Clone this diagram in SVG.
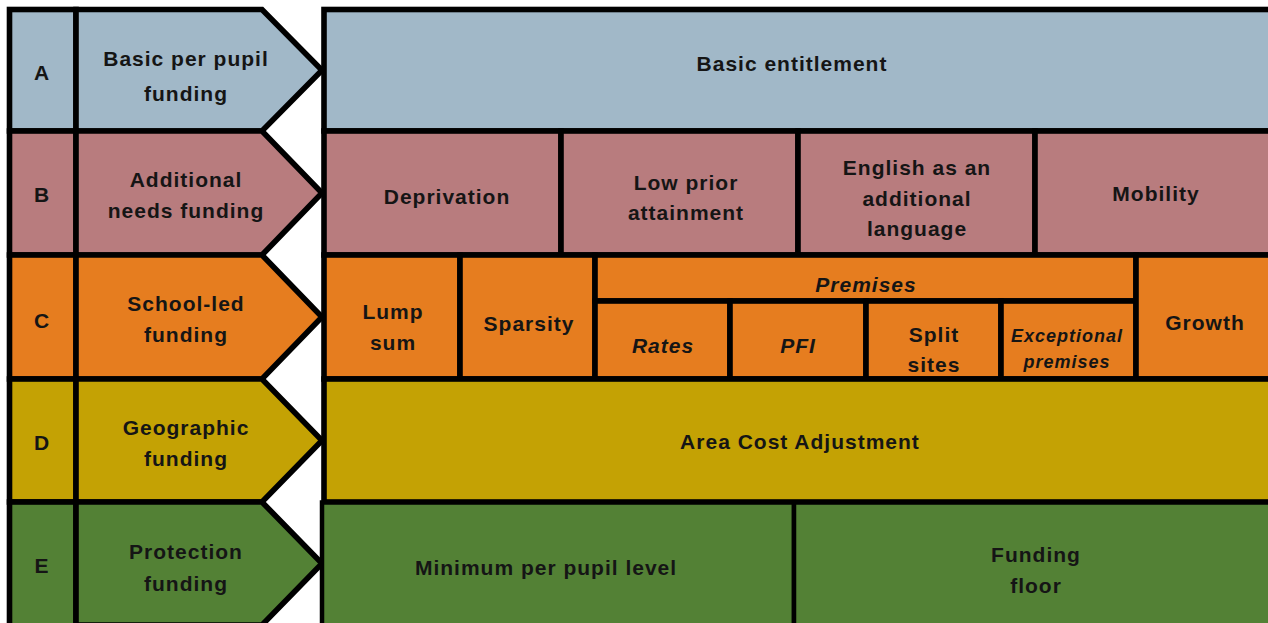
<svg xmlns="http://www.w3.org/2000/svg" width="1268" height="623" viewBox="0 0 1268 623">
<style>
.c{stroke:#000;stroke-width:5.6;stroke-linejoin:miter}
.a{fill:#A1B8C8}.b{fill:#B87C7E}.o{fill:#E67D1F}.d{fill:#C4A204}.g{fill:#538135}
text{font-family:"Liberation Sans",Arial,sans-serif;font-weight:bold;font-size:21px;letter-spacing:1px;fill:#151515;text-anchor:middle}
.i{font-style:italic}
.s{font-size:18px}
</style>
<rect width="1268" height="623" fill="#fff"/>
<g id="row-A">
<g id="letter-A"><rect class="c a" x="9.5" y="9.5" width="66.5" height="121.5"/><text x="42" y="80">A</text></g>
<g id="label-A"><polygon class="c a" points="76,9.5 262,9.5 322,70.2 262,131 76,131"/><text x="186" y="66">Basic per pupil</text><text x="186" y="101">funding</text></g>
<g id="basic-entitlement"><rect class="c a" x="324" y="9.5" width="952" height="121.5"/><text x="792" y="71">Basic entitlement</text></g>
</g>
<g id="row-B">
<g id="letter-B"><rect class="c b" x="9.5" y="131" width="66.5" height="124"/><text x="42" y="202">B</text></g>
<g id="label-B"><polygon class="c b" points="76,131 262,131 322,193 262,255 76,255"/><text x="186" y="187">Additional</text><text x="186" y="218">needs funding</text></g>
<g id="deprivation"><rect class="c b" x="324" y="131" width="237" height="124"/><text x="447" y="204">Deprivation</text></g>
<g id="low-prior"><rect class="c b" x="561" y="131" width="237" height="124"/><text x="686" y="190">Low prior</text><text x="686" y="220">attainment</text></g>
<g id="eal"><rect class="c b" x="798" y="131" width="237" height="124"/><text x="917" y="175">English as an</text><text x="917" y="206">additional</text><text x="917" y="236">language</text></g>
<g id="mobility"><rect class="c b" x="1035" y="131" width="241" height="124"/><text x="1156" y="201">Mobility</text></g>
</g>
<g id="row-C">
<g id="letter-C"><rect class="c o" x="9.5" y="255" width="66.5" height="124"/><text x="42" y="328">C</text></g>
<g id="label-C"><polygon class="c o" points="76,255 262,255 322,317 262,379 76,379"/><text x="186" y="311">School-led</text><text x="186" y="342">funding</text></g>
<g id="lump-sum"><rect class="c o" x="324" y="255" width="136" height="124"/><text x="393" y="319">Lump</text><text x="393" y="350">sum</text></g>
<g id="sparsity"><rect class="c o" x="460" y="255" width="135" height="124"/><text x="529" y="331">Sparsity</text></g>
<g id="premises"><rect class="c o" x="595" y="255" width="541" height="46"/><text class="i" x="866" y="292">Premises</text></g>
<g id="rates"><rect class="c o" x="595" y="301" width="135" height="78"/><text class="i" x="663" y="353">Rates</text></g>
<g id="pfi"><rect class="c o" x="730" y="301" width="136" height="78"/><text class="i" x="798" y="353">PFI</text></g>
<g id="split-sites"><rect class="c o" x="866" y="301" width="135" height="78"/><text x="934" y="342">Split</text><text x="934" y="372">sites</text></g>
<g id="exceptional"><rect class="c o" x="1001" y="301" width="135" height="78"/><text class="i s" x="1067" y="342">Exceptional</text><text class="i s" x="1067" y="368">premises</text></g>
<g id="growth"><rect class="c o" x="1136" y="255" width="140" height="124"/><text x="1205" y="330">Growth</text></g>
</g>
<g id="row-D">
<g id="letter-D"><rect class="c d" x="9.5" y="379" width="66.5" height="123"/><text x="42" y="450">D</text></g>
<g id="label-D"><polygon class="c d" points="76,379 262,379 322,440.5 262,502 76,502"/><text x="186" y="435">Geographic</text><text x="186" y="466">funding</text></g>
<g id="area-cost"><rect class="c d" x="324" y="379" width="952" height="123"/><text x="800" y="449">Area Cost Adjustment</text></g>
</g>
<g id="row-E">
<g id="letter-E"><rect class="c g" x="9.5" y="502" width="66.5" height="126"/><text x="42" y="573">E</text></g>
<g id="label-E"><polygon class="c g" points="76,502 262,502 322,563.5 262,625 76,625"/><text x="186" y="559">Protection</text><text x="186" y="591">funding</text></g>
<g id="mppl"><rect class="c g" x="322" y="502.5" width="472" height="124" style="stroke-width:4.5"/><text x="546" y="575">Minimum per pupil level</text></g>
<g id="funding-floor"><rect class="c g" x="794" y="502.5" width="482" height="124" style="stroke-width:4.5"/><text x="1036" y="562">Funding</text><text x="1036" y="593">floor</text></g>
</g>
<g id="connectors"></g>
</svg>
